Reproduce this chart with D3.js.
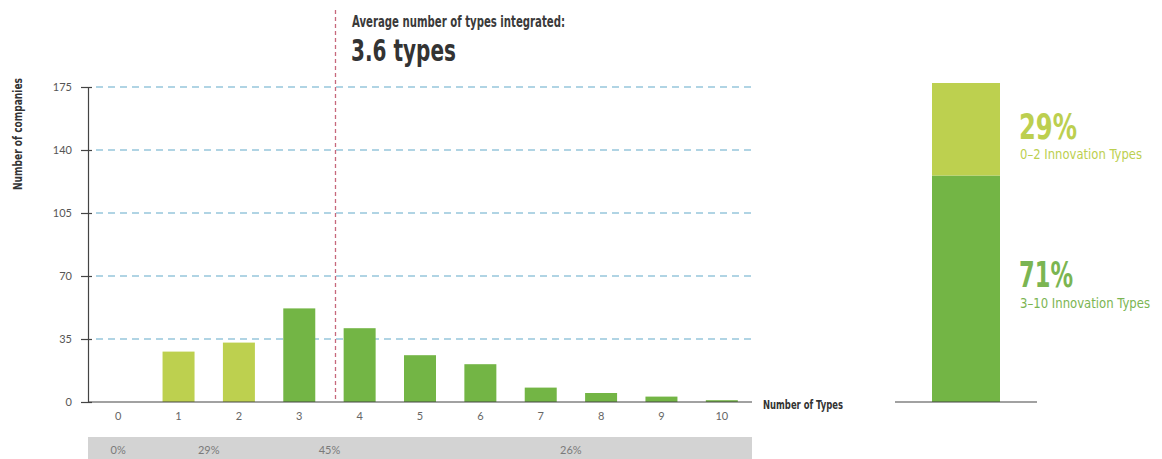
<!DOCTYPE html>
<html>
<head>
<meta charset="utf-8">
<script src="https://cdn.jsdelivr.net/npm/d3@7"></script>
<style>
  html, body { margin: 0; padding: 0; background: #ffffff; }
  svg { display: block; }
  .cond { font-family: 'Liberation Sans Narrow', 'DejaVu Sans Condensed', 'Liberation Sans', sans-serif; }
  .reg { font-family: 'Lato', 'DejaVu Sans', sans-serif; }
</style>
</head>
<body>
<svg id="chart" width="1162" height="459"></svg>
<script>
// ---------- data ----------
const categories = [0, 1, 2, 3, 4, 5, 6, 7, 8, 9, 10];
const companies  = [0, 28, 33, 52, 41, 26, 21, 8, 5, 3, 1];
const yTicks = [0, 35, 70, 105, 140, 175];
const averageTypes = 3.6;
const titleLine1 = "Average number of types integrated:";
const titleLine2 = "3.6 types";
// grouped shares shown in the grey strip
const shareGroups = [
  { from: 0, to: 0, label: "0%" },
  { from: 1, to: 2, label: "29%" },
  { from: 3, to: 4, label: "45%" },
  { from: 5, to: 10, label: "26%" }
];
// summary stacked bar
const summaryShares = [71, 29];
const summaryPct = ["71%", "29%"];
const summaryText = ["3–10 Innovation Types", "0–2 Innovation Types"];

// ---------- styles ----------
const lightGreen = "#bdd04f";
const darkGreen = "#73b545";
const gridColor = "#62a9c9";

const svg = d3.select("#chart");

const x = d3.scaleBand().domain(categories).range([88, 752])
  .paddingInner(0.47).paddingOuter(0.235);
const y = d3.scaleLinear().domain([0, 175]).range([402, 87]);
const xc = d => x(d) + x.bandwidth() / 2;
const xLin = d3.scaleLinear().domain([0, 10]).range([xc(0), xc(10)]);

// grey strip
svg.append("rect").attr("x", 88).attr("y", 437).attr("width", 752 - 88).attr("height", 22)
  .attr("fill", "#d3d3d3");
svg.selectAll("text.share").data(shareGroups).join("text")
  .attr("class", "reg share")
  .attr("x", d => (xc(d.from) + xc(d.to)) / 2)
  .attr("y", 454)
  .attr("text-anchor", "middle")
  .attr("font-size", 11)
  .attr("fill", "#7a7a7a")
  .text(d => d.label);

// grid lines
svg.append("g").selectAll("line").data(yTicks.filter(t => t > 0)).join("line")
  .attr("x1", 96).attr("x2", 752)
  .attr("y1", d => y(d)).attr("y2", d => y(d))
  .attr("stroke", gridColor).attr("stroke-width", 1.2)
  .attr("stroke-dasharray", "7,5");

// y axis
const yAxis = d3.axisLeft(y).tickValues(yTicks).tickSize(0).tickPadding(16);
const gy = svg.append("g").attr("transform", "translate(88,0)").call(yAxis);
gy.select(".domain").attr("stroke", "#444").attr("stroke-width", 1.2);
gy.selectAll(".tick text").attr("class", "reg").attr("font-size", 11).attr("fill", "#555");
gy.selectAll(".tick").append("line").attr("x1", -7).attr("x2", 4).attr("stroke", "#444").attr("stroke-width", 1.2);
gy.selectAll(".tick").filter(d => d === 0).select("line").remove();

// bars
svg.append("g").selectAll("rect").data(categories).join("rect")
  .attr("x", d => x(d))
  .attr("width", x.bandwidth())
  .attr("y", (d, i) => y(companies[i]))
  .attr("height", (d, i) => y(0) - y(companies[i]))
  .attr("fill", d => d <= 2 ? lightGreen : darkGreen);

// x axis baseline
svg.append("line").attr("x1", 88).attr("x2", 752).attr("y1", y(0)).attr("y2", y(0))
  .attr("stroke", "#444").attr("stroke-width", 1.2);
const xAxis = d3.axisBottom(x).tickSize(0).tickPadding(10);
const gx = svg.append("g").attr("transform", `translate(0,${y(0)})`).call(xAxis);
gx.select(".domain").remove();
gx.selectAll(".tick text").attr("class", "reg").attr("font-size", 11).attr("fill", "#666");

svg.append("text").attr("class", "cond")
  .attr("x", 763).attr("y", 409)
  .attr("font-size", 12).attr("font-weight", "bold").attr("fill", "#333")
  .attr("textLength", 80).attr("lengthAdjust", "spacingAndGlyphs")
  .text("Number of Types");

// y title
svg.append("text").attr("class", "cond")
  .attr("transform", "translate(22,134) rotate(-90)")
  .attr("text-anchor", "middle")
  .attr("font-size", 12).attr("font-weight", "bold").attr("fill", "#333")
  .attr("textLength", 112).attr("lengthAdjust", "spacingAndGlyphs")
  .text("Number of companies");

// average line
svg.append("line")
  .attr("x1", xLin(averageTypes)).attr("x2", xLin(averageTypes))
  .attr("y1", 10).attr("y2", y(0))
  .attr("stroke", "#c7687c").attr("stroke-width", 1.3)
  .attr("stroke-dasharray", "4,3");

svg.append("text").attr("class", "cond")
  .attr("x", 352).attr("y", 27)
  .attr("font-size", 15).attr("font-weight", "bold").attr("fill", "#3a3a3a")
  .attr("textLength", 213).attr("lengthAdjust", "spacingAndGlyphs")
  .text(titleLine1);
svg.append("text").attr("class", "cond")
  .attr("x", 351).attr("y", 61)
  .attr("font-size", 30).attr("font-weight", "bold").attr("fill", "#333")
  .attr("textLength", 105).attr("lengthAdjust", "spacingAndGlyphs")
  .text(titleLine2);

// summary stacked bar
const yP = d3.scaleLinear().domain([0, 100]).range([402, 83]);
const stackData = [];
let acc = 0;
summaryShares.forEach((v, i) => { stackData.push({ y0: acc, y1: acc + v, i }); acc += v; });
svg.append("g").selectAll("rect").data(stackData).join("rect")
  .attr("x", 932).attr("width", 68)
  .attr("y", d => yP(d.y1))
  .attr("height", d => yP(d.y0) - yP(d.y1))
  .attr("fill", d => d.i === 0 ? darkGreen : lightGreen);
svg.append("line").attr("x1", 895).attr("x2", 1037).attr("y1", yP(0)).attr("y2", yP(0))
  .attr("stroke", "#444").attr("stroke-width", 1.2);

// summary labels
const pctColors = ["#7bb552", "#bccf4f"];
const pctY = [287, 139];
const subY = [308, 159];
const subLen = [130, 122];
summaryPct.forEach((p, i) => {
  svg.append("text").attr("class", "cond")
    .attr("x", 1019).attr("y", pctY[i])
    .attr("font-size", 36).attr("font-weight", 600).attr("fill", pctColors[i])
    .attr("textLength", i === 0 ? 54 : 58).attr("lengthAdjust", "spacingAndGlyphs")
    .text(p);
  svg.append("text").attr("class", "cond")
    .attr("x", 1020).attr("y", subY[i])
    .attr("font-size", 14).attr("fill", pctColors[i])
    .attr("textLength", subLen[i]).attr("lengthAdjust", "spacingAndGlyphs")
    .text(summaryText[i]);
});
</script>
</body>
</html>
